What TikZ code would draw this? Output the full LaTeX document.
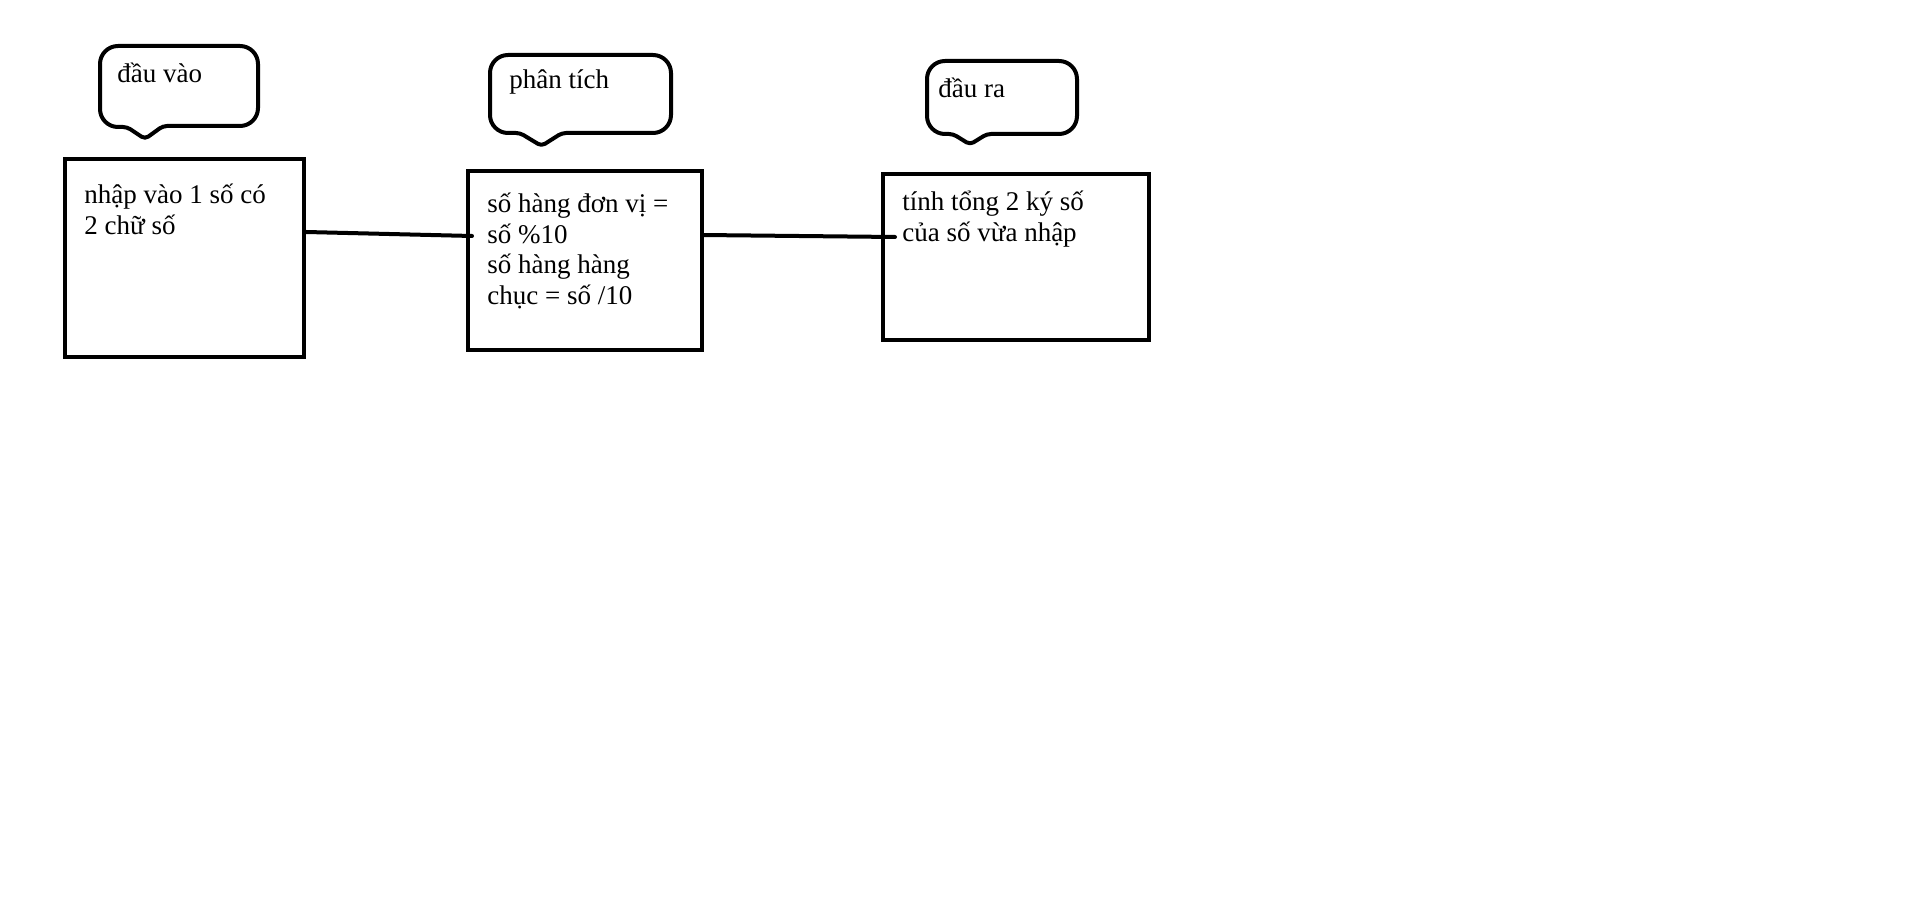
\documentclass[tikz,border=0pt]{standalone}
\usepackage{fontspec}
\setmainfont{Liberation Serif}
\usetikzlibrary{calc}
\tikzset{
  boxnode/.style={draw=black, line width=2pt, rectangle, inner sep=0pt, fill=none},
  bubbleline/.style={draw=black, line width=2pt, line join=round},
  labeltext/.style={anchor=base west, inner sep=0pt, align=left,
    font=\fontsize{13.5pt}{15.25pt}\selectfont, text=black},
  conn/.style={draw=black, line width=2pt, line cap=round}
}
\begin{document}
\begin{tikzpicture}[x=0.5pt,y=-0.5pt]
\useasboundingbox[fill=white] (0,0) rectangle (1913,897);
% boxes
\node[boxnode, minimum width=119.5pt, minimum height=99pt] (b1) at (184.5,258) {};
\node[boxnode, minimum width=117pt, minimum height=89.5pt] (b2) at (585,260.5) {};
\node[boxnode, minimum width=133pt, minimum height=83pt] (b3) at (1016,257) {};
% box texts (anchor is the baseline of the last line)
\node[labeltext] (t1) at (84,234.5) {nhập vào 1 số có\\2 chữ số};
\node[labeltext] (t2) at (487,304.5) {số hàng đơn vị =\\số \%10\\số hàng hàng\\chục = số /10};
\node[labeltext] (t3) at (902,241.5) {tính tổng 2 ký số\\của số vừa nhập};
% speech bubbles
\draw[bubbleline] (180,46) [rounded corners=9pt] -- (100,46) -- (100,127) [rounded corners=2pt] -- (127,127) -- (145,139) -- (163,126) [rounded corners=9pt] -- (258,126) -- (258,46) -- cycle;
\draw[bubbleline] (580,55) [rounded corners=9pt] -- (490,55) -- (490,133) [rounded corners=2pt] -- (520,133) -- (541.5,146) -- (562,133) [rounded corners=9pt] -- (671,133) -- (671,55) -- cycle;
\draw[bubbleline] (1000,61) [rounded corners=9pt] -- (927,61) -- (927,134) [rounded corners=2pt] -- (953,134) -- (970,144.5) -- (987,134) [rounded corners=9pt] -- (1077,134) -- (1077,61) -- cycle;
\node[labeltext] (l1) at (117,83) {đầu vào};
\node[labeltext] (l2) at (509,89) {phân tích};
\node[labeltext] (l3) at (938,98) {đầu ra};
% connectors
\draw[conn] ($(b1.north east)+(0,75)$) -- ($(b2.north west)+(6,67)$);
\draw[conn] ($(b2.north east)+(-2,66)$) -- ($(b3.north west)+(14,65)$);
\end{tikzpicture}
\end{document}
